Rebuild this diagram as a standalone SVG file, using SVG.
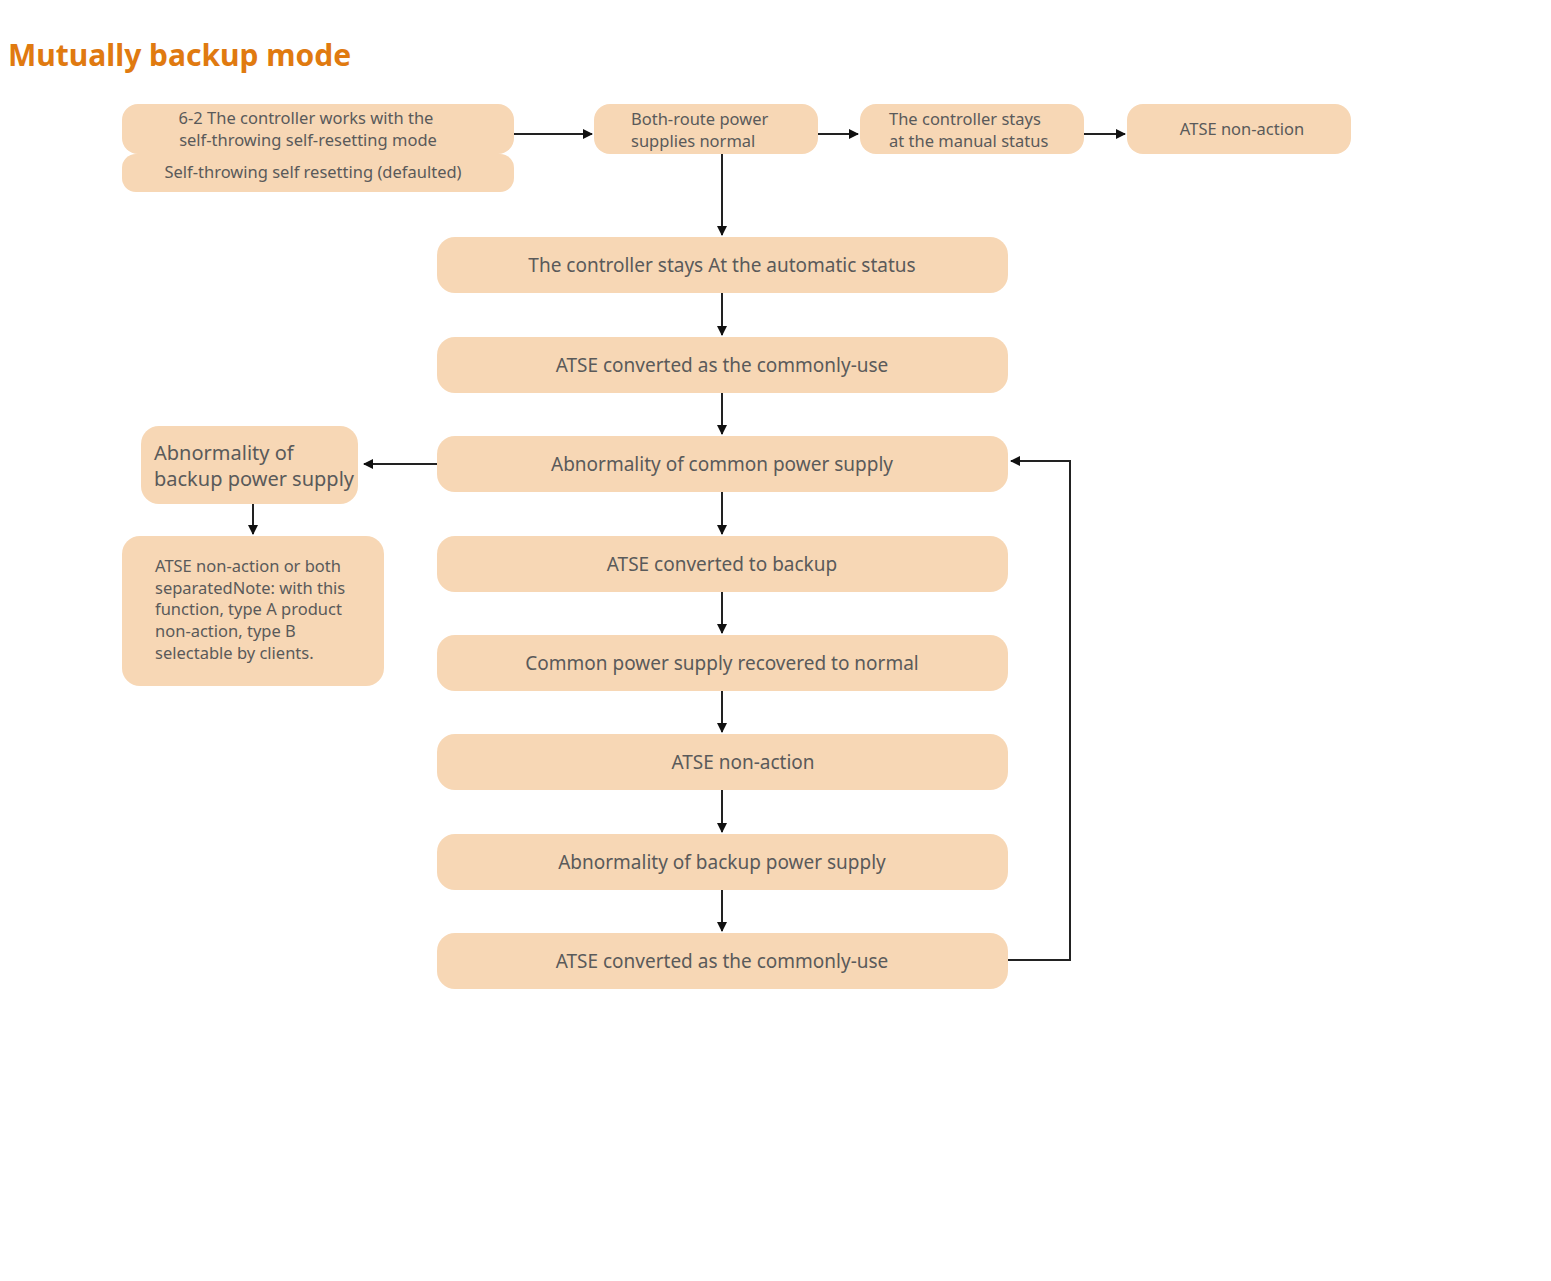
<svg xmlns="http://www.w3.org/2000/svg" width="1551" height="1281" viewBox="0 0 1551 1281">
<style>
.b{fill:#F7D7B5}
.t{font-family:"Noto Sans","Open Sans",sans-serif;fill:#5a5a5a;font-size:19px;text-anchor:middle}
.s{font-size:16.5px}
.l{text-anchor:start}
.c{stroke:#222;stroke-width:2;fill:none;marker-end:url(#a)}
</style>
<defs><marker id="a" markerWidth="10" markerHeight="10" refX="9" refY="5" orient="auto" markerUnits="userSpaceOnUse"><path d="M0,0 L10,5 L0,10 z" fill="#111"/></marker></defs>
<rect width="1551" height="1281" fill="#fff"/>
<text x="8" y="66" style="font-family:'Noto Sans','Open Sans',sans-serif;font-weight:bold;font-size:30px;fill:#E07A10">Mutually backup mode</text>
<g id="n1"><rect class="b" x="122" y="104" width="392" height="50" rx="16"/><text class="t s" x="306" y="124">6-2 The controller works with the</text><text class="t s" x="308" y="146">self-throwing self-resetting mode</text></g>
<g id="n1b"><rect class="b" x="122" y="154" width="392" height="38" rx="14"/><text class="t s" x="313" y="178">Self-throwing self resetting (defaulted)</text></g>
<g id="n2"><rect class="b" x="594" y="104" width="224" height="50" rx="16"/><text class="t s l" x="631" y="125">Both-route power</text><text class="t s l" x="631" y="147">supplies normal</text></g>
<g id="n3"><rect class="b" x="860" y="104" width="224" height="50" rx="16"/><text class="t s l" x="889" y="125">The controller stays</text><text class="t s l" x="889" y="147">at the manual status</text></g>
<g id="n4"><rect class="b" x="1127" y="104" width="224" height="50" rx="16"/><text class="t s" x="1242" y="135">ATSE non-action</text></g>
<g id="m1"><rect class="b" x="437" y="237" width="571" height="56" rx="18"/><text class="t" x="722" y="272">The controller stays At the automatic status</text></g>
<g id="m2"><rect class="b" x="437" y="337" width="571" height="56" rx="18"/><text class="t" x="722" y="372">ATSE converted as the commonly-use</text></g>
<g id="m3"><rect class="b" x="437" y="436" width="571" height="56" rx="18"/><text class="t" x="722" y="471">Abnormality of common power supply</text></g>
<g id="m4"><rect class="b" x="437" y="536" width="571" height="56" rx="18"/><text class="t" x="722" y="571">ATSE converted to backup</text></g>
<g id="m5"><rect class="b" x="437" y="635" width="571" height="56" rx="18"/><text class="t" x="722" y="670">Common power supply recovered to normal</text></g>
<g id="m6"><rect class="b" x="437" y="734" width="571" height="56" rx="18"/><text class="t" x="743" y="769">ATSE non-action</text></g>
<g id="m7"><rect class="b" x="437" y="834" width="571" height="56" rx="18"/><text class="t" x="722" y="869">Abnormality of backup power supply</text></g>
<g id="m8"><rect class="b" x="437" y="933" width="571" height="56" rx="18"/><text class="t" x="722" y="968">ATSE converted as the commonly-use</text></g>
<g id="l1"><rect class="b" x="141" y="426" width="217" height="78" rx="18"/><text class="t l" x="154" y="460" style="font-size:20px">Abnormality of</text><text class="t l" x="154" y="486" style="font-size:20px">backup power supply</text></g>
<g id="l2"><rect class="b" x="122" y="536" width="262" height="150" rx="18"/><text class="t s l" x="155" y="572">ATSE non-action or both</text><text class="t s l" x="155" y="594">separatedNote: with this</text><text class="t s l" x="155" y="615">function, type A product</text><text class="t s l" x="155" y="637">non-action, type B</text><text class="t s l" x="155" y="659">selectable by clients.</text></g>
<g id="connectors">
<path class="c" d="M514,134 H592"/><path class="c" d="M818,134 H858"/><path class="c" d="M1084,134 H1125"/>
<path class="c" d="M722,154 V235"/>
<path class="c" d="M722,293 V335"/><path class="c" d="M722,393 V434"/><path class="c" d="M722,492 V534"/><path class="c" d="M722,592 V633"/><path class="c" d="M722,691 V732"/><path class="c" d="M722,790 V832"/><path class="c" d="M722,890 V931"/>
<path class="c" d="M437,464 H364"/><path class="c" d="M253,504 V534"/>
<path class="c" d="M1008,960 H1070 V461 H1011"/>
</g>
</svg>
